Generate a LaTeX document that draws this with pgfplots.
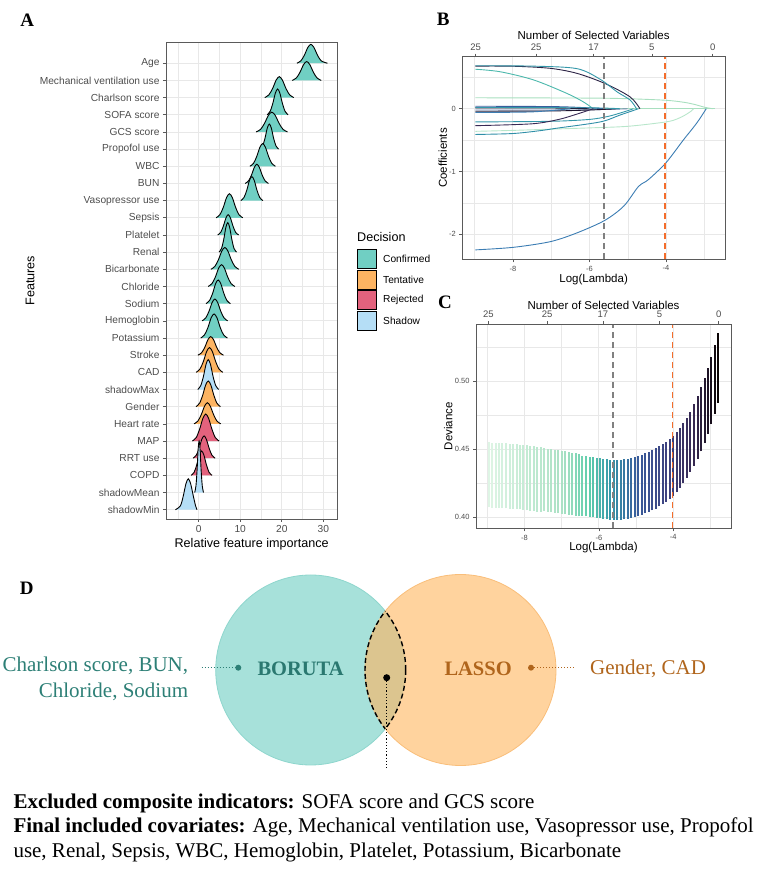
\documentclass[border=0pt]{standalone}
\usepackage{pgfplots}
\pgfplotsset{compat=1.18}
\usepackage{pgfplotstable}
\usepackage{fontspec}
\setmainfont{Liberation Sans}
\newfontfamily\serif{Liberation Serif}

\definecolor{framec}{HTML}{5A5A5A}
\definecolor{gridc}{HTML}{E8E8E8}
\definecolor{tickc}{HTML}{4D4D4D}
\definecolor{conf}{HTML}{70CFC3}
\definecolor{tent}{HTML}{FDB462}
\definecolor{rej}{HTML}{E3627D}
\definecolor{shad}{HTML}{B5DEF6}
\definecolor{dashgray}{HTML}{808080}
\definecolor{dashorange}{HTML}{F46D2B}
\definecolor{mkA}{HTML}{2B2244}
\definecolor{mkB}{HTML}{3497A9}
\definecolor{mkC}{HTML}{4CB8AC}
\definecolor{mkD}{HTML}{A8DFBF}
\definecolor{mkE}{HTML}{395D9C}
\definecolor{mkF}{HTML}{1E1530}
\definecolor{mkG}{HTML}{6F82AC}
\definecolor{mkH}{HTML}{B8E6CB}
\definecolor{mkI}{HTML}{3C7DB3}
\definecolor{mkJ}{HTML}{382A54}
\definecolor{mkK}{HTML}{2F8FA8}
\definecolor{tealfill}{HTML}{A7E1DA}
\definecolor{tealedge}{HTML}{8ED6CD}
\definecolor{orfill}{HTML}{FFD39E}
\definecolor{oredge}{HTML}{F9BE7A}
\definecolor{lensc}{HTML}{DCC58F}
\definecolor{tealtxt}{HTML}{2D7F76}
\definecolor{tealdark}{HTML}{2A7870}
\definecolor{browntxt}{HTML}{B0651C}

\pgfplotsset{
  ggbase/.style={
    scale only axis, anchor=south west,
    axis line style={draw=framec, line width=0.8pt},
    tick style={draw=framec, line width=0.6pt},
    tick align=outside, major tick length=3pt, minor tick length=0pt,
    xtick pos=left, ytick pos=left,
    major grid style={draw=gridc, line width=0.8pt},
    minor grid style={draw=gridc, line width=0.4pt},
    tick label style={color=tickc},
  },
  topaxis/.style={
    scale only axis, anchor=south west,
    axis x line*=top, hide y axis, ymin=0, ymax=1,
    axis line style={draw=framec, line width=0.8pt},
    tick style={draw=framec, line width=0.6pt},
    tick align=outside, major tick length=3pt,
    xtick={-8.97,-7.39,-5.89,-4.37,-2.78}, xticklabels={25,25,17,5,0},
    x tick label style={color=tickc, font=\fontsize{9.5}{11}\selectfont},
    xlabel={Number of Selected Variables},
  },
  vdash/.style={line width=1.7pt, dash pattern=on 6pt off 4pt},
}

\newcommand{\ridge}[2]{%
  \addplot[fill=#1, draw=none, smooth, forget plot] coordinates {#2} -- cycle;
  \addplot[black, line width=0.9pt, smooth, forget plot] coordinates {#2};
}

\pgfplotstableread{
x lo h
-8.96 0.4073 0.0476
-8.87 0.4072 0.0476
-8.77 0.4071 0.0476
-8.68 0.4070 0.0476
-8.59 0.4068 0.0476
-8.49 0.4066 0.0476
-8.40 0.4064 0.0476
-8.31 0.4062 0.0476
-8.21 0.4060 0.0476
-8.12 0.4058 0.0476
-8.03 0.4055 0.0476
-7.93 0.4052 0.0476
-7.84 0.4049 0.0476
-7.75 0.4046 0.0476
-7.65 0.4043 0.0476
-7.56 0.4040 0.0476
-7.47 0.4045 0.0460
-7.37 0.4042 0.0460
-7.28 0.4039 0.0460
-7.19 0.4035 0.0460
-7.09 0.4031 0.0460
-7.00 0.4027 0.0460
-6.90 0.4023 0.0460
-6.81 0.4019 0.0460
-6.72 0.4015 0.0460
-6.62 0.4011 0.0460
-6.53 0.4007 0.0460
-6.44 0.4013 0.0440
-6.34 0.4009 0.0440
-6.25 0.4005 0.0440
-6.16 0.4001 0.0440
-6.06 0.3997 0.0440
-5.97 0.3993 0.0440
-5.88 0.3989 0.0440
-5.78 0.3986 0.0440
-5.69 0.3984 0.0440
-5.60 0.3983 0.0440
-5.50 0.3983 0.0440
-5.41 0.3984 0.0440
-5.32 0.3987 0.0440
-5.22 0.3991 0.0440
-5.13 0.3996 0.0440
-5.03 0.4002 0.0440
-4.94 0.4010 0.0440
-4.85 0.4019 0.0440
-4.75 0.4029 0.0440
-4.66 0.4040 0.0440
-4.57 0.4052 0.0440
-4.47 0.4065 0.0440
-4.38 0.4080 0.0440
-4.29 0.4097 0.0440
-4.19 0.4115 0.0440
-4.10 0.4135 0.0440
-4.01 0.4158 0.0440
-3.91 0.4185 0.0440
-3.82 0.4215 0.0440
-3.73 0.4250 0.0440
-3.63 0.4290 0.0440
-3.54 0.4335 0.0440
-3.45 0.4377 0.0456
-3.35 0.4428 0.0464
-3.26 0.4484 0.0472
-3.16 0.4545 0.0480
-3.07 0.4612 0.0486
-2.98 0.4684 0.0492
-2.88 0.4760 0.0500
-2.79 0.4840 0.0510
}\devtab

\begin{document}
\begin{tikzpicture}
\path[use as bounding box] (0,0) rectangle (778pt,889pt);

% ---------------- Panel A ----------------
\begin{axis}[ggbase, at={(166pt,370pt)}, width=171.3pt, height=476.7pt,
  xmin=-7.87, xmax=33.37, ymin=-0.54, ymax=27.22, clip=false,
  xtick={0,10,20,30}, xticklabels={0,10,20,30}, minor xtick={-5,5,15,25},
  ytick={0,...,26},
  yticklabels={shadowMin,shadowMean,COPD,RRT use,MAP,Heart rate,Gender,shadowMax,CAD,Stroke,Potassium,Hemoglobin,Sodium,Chloride,Bicarbonate,Renal,Platelet,Sepsis,Vasopressor use,BUN,WBC,Propofol use,GCS score,SOFA score,Charlson score,Mechanical ventilation use,Age},
  grid=both,
  tick label style={font=\fontsize{10.2}{12}\selectfont},
  xlabel={Relative feature importance}, ylabel={Features},
  label style={font=\fontsize{12.6}{14}\selectfont},
  xlabel style={at={(axis description cs:0.5,-0.0524)}, anchor=center},
  ylabel style={at={(axis description cs:-0.794,0.5)}, anchor=center},
]
\ridge{conf}{(23.64,26) (24.6,26.14) (25.44,26.47) (26.28,26.92) (27.0,27.1) (27.75,26.92) (28.6,26.47) (29.5,26.14) (31.0,26)}
\ridge{conf}{(22.5,25) (23.5,25.14) (24.38,25.47) (25.25,25.92) (26.0,26.1) (26.75,25.92) (27.63,25.47) (28.5,25.14) (29.5,25)}
\ridge{conf}{(15.9,24) (16.9,24.16) (17.78,24.52) (18.65,25.02) (19.4,25.22) (20.15,25.02) (21.03,24.52) (21.9,24.16) (22.9,24)}
\ridge{conf}{(16.48,23) (17.2,23.2) (17.83,23.65) (18.46,24.26) (19.0,24.5) (19.54,24.26) (20.17,23.65) (20.8,23.2) (21.52,23)}
\ridge{conf}{(13.82,22) (14.9,22.15) (15.85,22.5) (16.79,22.97) (17.6,23.15) (18.41,22.97) (19.36,22.5) (20.3,22.15) (21.38,22)}
\ridge{conf}{(14.76,21) (15.4,21.19) (15.96,21.63) (16.52,22.23) (17.0,22.46) (17.48,22.23) (18.04,21.63) (18.6,21.19) (19.24,21)}
\ridge{conf}{(12.32,20) (13.2,20.17) (13.97,20.57) (14.74,21.11) (15.4,21.32) (16.06,21.11) (16.83,20.57) (17.6,20.17) (18.48,20)}
\ridge{conf}{(11.2,19) (12.0,19.15) (12.7,19.48) (13.4,19.94) (14.0,20.12) (14.6,19.94) (15.3,19.48) (16.0,19.15) (16.8,19)}
\ridge{conf}{(10.14,18) (10.9,18.18) (11.57,18.6) (12.23,19.18) (12.8,19.4) (13.37,19.18) (14.04,18.6) (14.7,18.18) (15.46,18)}
\ridge{conf}{(4.18,17) (5.1,17.18) (5.91,17.6) (6.71,18.18) (7.4,18.4) (8.09,18.18) (8.9,17.6) (9.7,17.18) (10.62,17)}
\ridge{conf}{(4.58,16) (5.3,16.15) (5.93,16.51) (6.56,16.99) (7.1,17.18) (7.64,16.99) (8.27,16.51) (8.9,16.15) (9.62,16)}
\ridge{conf}{(4.9,15) (5.5,15.22) (6.03,15.74) (6.55,16.45) (7.0,16.72) (7.45,16.45) (7.98,15.74) (8.5,15.22) (9.1,15)}
\ridge{conf}{(2.94,14) (3.9,14.17) (4.74,14.55) (5.58,15.07) (6.3,15.27) (7.02,15.07) (7.86,14.55) (8.7,14.17) (9.66,14)}
\ridge{conf}{(2.28,13) (3.2,13.17) (4.01,13.55) (4.81,14.07) (5.5,14.27) (6.19,14.07) (6.99,13.55) (7.8,13.17) (8.72,13)}
\ridge{conf}{(1.76,12) (2.6,12.18) (3.34,12.59) (4.07,13.16) (4.7,13.38) (5.33,13.16) (6.07,12.59) (6.8,12.18) (7.64,12)}
\ridge{conf}{(0.82,11) (1.7,11.17) (2.47,11.55) (3.24,12.07) (3.9,12.27) (4.56,12.07) (5.33,11.55) (6.1,11.17) (6.98,11)}
\ridge{conf}{(0.48,10) (1.4,10.18) (2.21,10.6) (3.01,11.18) (3.7,11.4) (4.39,11.18) (5.2,10.6) (6.0,10.18) (6.92,10)}
\ridge{tent}{(-0.18,9) (0.7,9.14) (1.47,9.46) (2.24,9.91) (2.9,10.08) (3.56,9.91) (4.33,9.46) (5.1,9.14) (5.98,9)}
\ridge{tent}{(-0.62,8) (0.3,8.19) (1.11,8.62) (1.91,9.21) (2.6,9.44) (3.29,9.21) (4.1,8.62) (4.9,8.19) (5.82,8)}
\ridge{shad}{(-0.22,7) (0.5,7.23) (1.13,7.75) (1.76,8.46) (2.3,8.74) (2.84,8.46) (3.47,7.75) (4.1,7.23) (4.82,7)}
\ridge{tent}{(-0.64,6) (0.2,6.2) (0.94,6.65) (1.67,7.26) (2.3,7.5) (2.93,7.26) (3.67,6.65) (4.4,6.2) (5.24,6)}
\ridge{tent}{(-1.12,5) (-0.2,5.16) (0.61,5.53) (1.41,6.03) (2.1,6.23) (2.79,6.03) (3.6,5.53) (4.4,5.16) (5.32,5)}
\ridge{rej}{(-1.52,4) (-0.6,4.2) (0.21,4.68) (1.01,5.32) (1.7,5.57) (2.39,5.32) (3.2,4.68) (4.0,4.2) (4.92,4)}
\ridge{rej}{(-1.36,3) (-0.6,3.17) (0.07,3.56) (0.73,4.09) (1.3,4.3) (1.87,4.09) (2.54,3.56) (3.2,3.17) (3.96,3)}
\ridge{rej}{(-1.82,2) (-1.1,2.18) (-0.47,2.61) (0.16,3.19) (0.7,3.42) (1.24,3.19) (1.87,2.61) (2.5,2.18) (3.22,2)}
\ridge{shad}{(-0.96,1) (-0.66,1.39) (-0.39,2.29) (-0.13,3.52) (0.1,4.0) (0.33,3.52) (0.59,2.29) (0.86,1.39) (1.16,1)}
\ridge{shad}{(-5.6,0) (-4.4,0.23) (-3.74,0.77) (-3.07,1.51) (-2.5,1.8) (-1.93,1.51) (-1.27,0.77) (-0.75,0.23) (-0.4,0)}
\end{axis}

% legend A
\node[anchor=west, inner sep=0, font=\fontsize{12.6}{14}\selectfont] at (357pt,652pt) {Decision};
\draw[fill=conf, draw=black, line width=0.8pt] (357.3pt,620.5pt) rectangle (376.7pt,639.3pt);
\draw[fill=tent, draw=black, line width=0.8pt] (357.3pt,599.4pt) rectangle (376.7pt,618.2pt);
\draw[fill=rej, draw=black, line width=0.8pt] (357.3pt,579.6pt) rectangle (376.7pt,598.4pt);
\draw[fill=shad, draw=black, line width=0.8pt] (357.3pt,558.8pt) rectangle (376.7pt,577.6pt);
\node[anchor=west, inner sep=0, font=\fontsize{10.2}{12}\selectfont] at (383pt,629.8pt) {Confirmed};
\node[anchor=west, inner sep=0, font=\fontsize{10.2}{12}\selectfont] at (383pt,608.7pt) {Tentative};
\node[anchor=west, inner sep=0, font=\fontsize{10.2}{12}\selectfont] at (383pt,589pt) {Rejected};
\node[anchor=west, inner sep=0, font=\fontsize{10.2}{12}\selectfont] at (383pt,568.2pt) {Shadow};

% ---------------- Panel B ----------------
\begin{axis}[ggbase, at={(462.3pt,629.7pt)}, width=262.7pt, height=202.6pt,
  xmin=-9.32, xmax=-2.46, ymin=-2.4, ymax=0.83,
  xtick={-8,-6,-4}, xticklabels={-8,-6,-4}, minor xtick={-9,-7,-5,-3},
  ytick={-2,-1,0}, yticklabels={-2,-1,0}, minor ytick={-1.5,-0.5,0.5},
  grid=both,
  tick label style={font=\fontsize{7.5}{9}\selectfont},
  xlabel={Log(Lambda)}, ylabel={Coefficients},
  label style={font=\fontsize{11.5}{13}\selectfont},
  xlabel style={at={(axis description cs:0.5,-0.102)}, anchor=center},
  ylabel style={at={(axis description cs:-0.0746,0.5)}, anchor=center},
]
\addplot[mkD, line width=0.9pt] coordinates {(-5.9,0) (-2.72,0)};
\addplot[mkH, line width=0.9pt, smooth] coordinates {(-8.98,-0.36) (-8,-0.345) (-7,-0.325) (-6,-0.305) (-5,-0.28) (-4,-0.21) (-3.7,-0.16) (-3.5,-0.10) (-3.35,-0.04) (-3.28,0)};
\addplot[mkD, line width=0.9pt, smooth] coordinates {(-8.98,0.175) (-6,0.17) (-5,0.16) (-4,0.135) (-3.5,0.10) (-3.2,0.06) (-3.0,0.025) (-2.78,0)};
\addplot[mkC, line width=0.9pt, smooth] coordinates {(-8.98,0.63) (-8.33,0.59) (-7.46,0.46) (-6.59,0.245) (-6.16,0.11) (-5.9,0)};
\addplot[mkE, line width=0.9pt, smooth] coordinates {(-8.98,0.04) (-7,0.035) (-6.2,0.02) (-5.6,0)};
\addplot[mkF, line width=0.9pt, smooth] coordinates {(-8.98,0.015) (-7,0.012) (-6,0)};
\addplot[mkG, line width=0.9pt, smooth] coordinates {(-8.98,-0.02) (-6.5,-0.02) (-5.5,-0.01) (-5.0,0)};
\addplot[mkF, line width=0.9pt, smooth] coordinates {(-8.98,-0.04) (-7,-0.035) (-6,-0.02) (-5.3,0)};
\addplot[mkI, line width=0.9pt, smooth] coordinates {(-8.98,-0.06) (-7.5,-0.05) (-6.5,0)};
\addplot[mkB, line width=0.9pt, smooth] coordinates {(-8.98,0.02) (-6,0.015) (-5.2,0)};
\addplot[mkB, line width=0.9pt, smooth] coordinates {(-8.98,-0.21) (-7,-0.20) (-6,-0.17) (-5.5,-0.12) (-5.1,-0.05) (-4.85,0)};
\addplot[mkJ, line width=0.9pt, smooth] coordinates {(-8.98,-0.27) (-7.5,-0.24) (-6.8,-0.17) (-6.3,-0.08) (-5.9,0)};
\addplot[mkK, line width=0.9pt, smooth] coordinates {(-8.98,-0.41) (-8,-0.395) (-7.3,-0.35) (-6.85,-0.31) (-5.72,-0.21) (-5.2,-0.1) (-4.72,0)};
\addplot[mkA, line width=0.9pt, smooth] coordinates {(-8.98,0.68) (-8,0.678) (-7.03,0.645) (-6.33,0.565) (-5.6,0.404) (-4.94,0.19) (-4.68,0)};
\addplot[mkB, line width=0.9pt, smooth] coordinates {(-8.98,0.685) (-7.5,0.68) (-6.33,0.64) (-5.72,0.47) (-5.28,0.27) (-4.94,0.14) (-4.77,0)};
\addplot[mkI, line width=0.9pt, smooth] coordinates {(-8.98,-2.25) (-8,-2.21) (-7.03,-2.12) (-6.33,-1.98) (-5.6,-1.78) (-5.1,-1.55) (-4.72,-1.24) (-4.46,-1.13) (-4.0,-0.86) (-3.55,-0.50) (-3.2,-0.23) (-2.95,0)};
\addplot[draw=dashgray, vdash] coordinates {(-5.62,-2.4) (-5.62,0.83)};
\addplot[draw=dashorange, vdash] coordinates {(-4.02,-2.4) (-4.02,0.83)};
\end{axis}
\begin{axis}[topaxis, at={(462.3pt,629.7pt)}, width=262.7pt, height=202.6pt,
  xmin=-9.32, xmax=-2.46,
  label style={font=\fontsize{11.5}{13}\selectfont},
  xlabel style={at={(axis description cs:0.5,1.107)}, anchor=center},
]
\end{axis}

% ---------------- Panel C ----------------
\begin{axis}[ggbase, at={(476pt,360.7pt)}, width=255pt, height=204pt,
  xmin=-9.30, xmax=-2.45, ymin=0.392, ymax=0.5415,
  xtick={-8,-6,-4}, xticklabels={-8,-6,-4}, minor xtick={-9,-7,-5,-3},
  ytick={0.40,0.45,0.50}, yticklabels={0.40,0.45,0.50}, minor ytick={0.425,0.475,0.525},
  grid=both,
  tick label style={font=\fontsize{7.5}{9}\selectfont},
  xlabel={Log(Lambda)}, ylabel={Deviance},
  label style={font=\fontsize{11.5}{13}\selectfont},
  xlabel style={at={(axis description cs:0.5,-0.095)}, anchor=center},
  ylabel style={at={(axis description cs:-0.1086,0.5)}, anchor=center},
  colormap={mako}{rgb255(0pt)=(222,245,229) rgb255(20pt)=(170,225,196) rgb255(27pt)=(96,206,172) rgb255(33pt)=(52,151,169) rgb255(40pt)=(57,93,156) rgb255(48pt)=(62,66,128) rgb255(55pt)=(56,42,84) rgb255(62pt)=(11,4,5)},
]
\addplot[point meta=x, line width=2pt,
  quiver={u=0, v=\thisrow{h}, colored=mapped color, every arrow/.append style={line width=2pt}}]
  table[x=x, y=lo] {\devtab};
\addplot[draw=dashgray, vdash] coordinates {(-5.62,0.392) (-5.62,0.5415)};
\addplot[draw=dashorange, vdash] coordinates {(-4.02,0.392) (-4.02,0.5415)};
\end{axis}
\begin{axis}[topaxis, at={(476pt,360.7pt)}, width=255pt, height=204pt,
  xmin=-9.30, xmax=-2.45,
  label style={font=\fontsize{11.5}{13}\selectfont},
  xlabel style={at={(axis description cs:0.5,1.0946)}, anchor=center},
]
\end{axis}

% ---------------- Panel letters ----------------
\node[font=\serif\bfseries\fontsize{19}{19}\selectfont] at (27.3pt,869pt) {A};
\node[font=\serif\bfseries\fontsize{19}{19}\selectfont] at (443.3pt,870pt) {B};
\node[font=\serif\bfseries\fontsize{19}{19}\selectfont] at (445pt,586.5pt) {C};
\node[font=\serif\bfseries\fontsize{19}{19}\selectfont] at (26.7pt,300.7pt) {D};

% ---------------- Panel D (Venn) ----------------
\fill[tealfill, draw=tealedge, line width=0.8pt] (310.7pt,219pt) circle (95pt);
\fill[orfill, draw=oredge, line width=0.8pt] (460.5pt,219pt) circle (95.5pt);
\begin{scope}
  \clip (310.7pt,219pt) circle (95pt);
  \fill[lensc] (460.5pt,219pt) circle (95.5pt);
  \draw[black, line width=1.4pt, dash pattern=on 5pt off 3pt] (460.5pt,219pt) circle (95.5pt);
\end{scope}
\begin{scope}
  \clip (460.5pt,219pt) circle (95.5pt);
  \draw[black, line width=1.4pt, dash pattern=on 5pt off 3pt] (310.7pt,219pt) circle (95pt);
\end{scope}
\node[anchor=base east, inner sep=0, font=\serif\fontsize{21}{25}\selectfont, text=tealtxt] at (188.3pt,217.3pt) {Charlson score, BUN,};
\node[anchor=base east, inner sep=0, font=\serif\fontsize{21}{25}\selectfont, text=tealtxt] at (188.3pt,191.7pt) {Chloride, Sodium};
\draw[tealtxt, line width=1pt, dotted] (201.7pt,221.3pt) -- (238.3pt,221.3pt);
\fill[tealtxt] (238.3pt,221.3pt) circle (3pt);
\node[anchor=base west, inner sep=0, font=\serif\bfseries\fontsize{20.5}{24}\selectfont, text=tealdark] at (257.3pt,213.3pt) {BORUTA};
\node[anchor=base west, inner sep=0, font=\serif\bfseries\fontsize{20.5}{24}\selectfont, text=browntxt] at (444.3pt,213.3pt) {LASSO};
\fill[browntxt] (531pt,221.3pt) circle (3pt);
\draw[browntxt, line width=1pt, dotted] (531pt,221.3pt) -- (573.3pt,221.3pt);
\node[anchor=base west, inner sep=0, font=\serif\fontsize{21}{25}\selectfont, text=browntxt] at (590pt,214pt) {Gender, CAD};
\fill[black] (386.7pt,211.3pt) circle (3.5pt);
\draw[black, line width=1.2pt, dotted] (386.7pt,211.3pt) -- (386.7pt,120pt);

% bottom text
\node[anchor=base west, inner sep=0, font=\serif\fontsize{21}{25}\selectfont] at (13.3pt,80.7pt) {\textbf{Excluded composite indicators:} SOFA score and GCS score};
\node[anchor=base west, inner sep=0, font=\serif\fontsize{21}{25}\selectfont] at (13.3pt,56.3pt) {\textbf{Final included covariates:} Age, Mechanical ventilation use, Vasopressor use, Propofol};
\node[anchor=base west, inner sep=0, font=\serif\fontsize{21}{25}\selectfont] at (13.3pt,31.3pt) {use, Renal, Sepsis, WBC, Hemoglobin, Platelet, Potassium, Bicarbonate};
\end{tikzpicture}
\end{document}
